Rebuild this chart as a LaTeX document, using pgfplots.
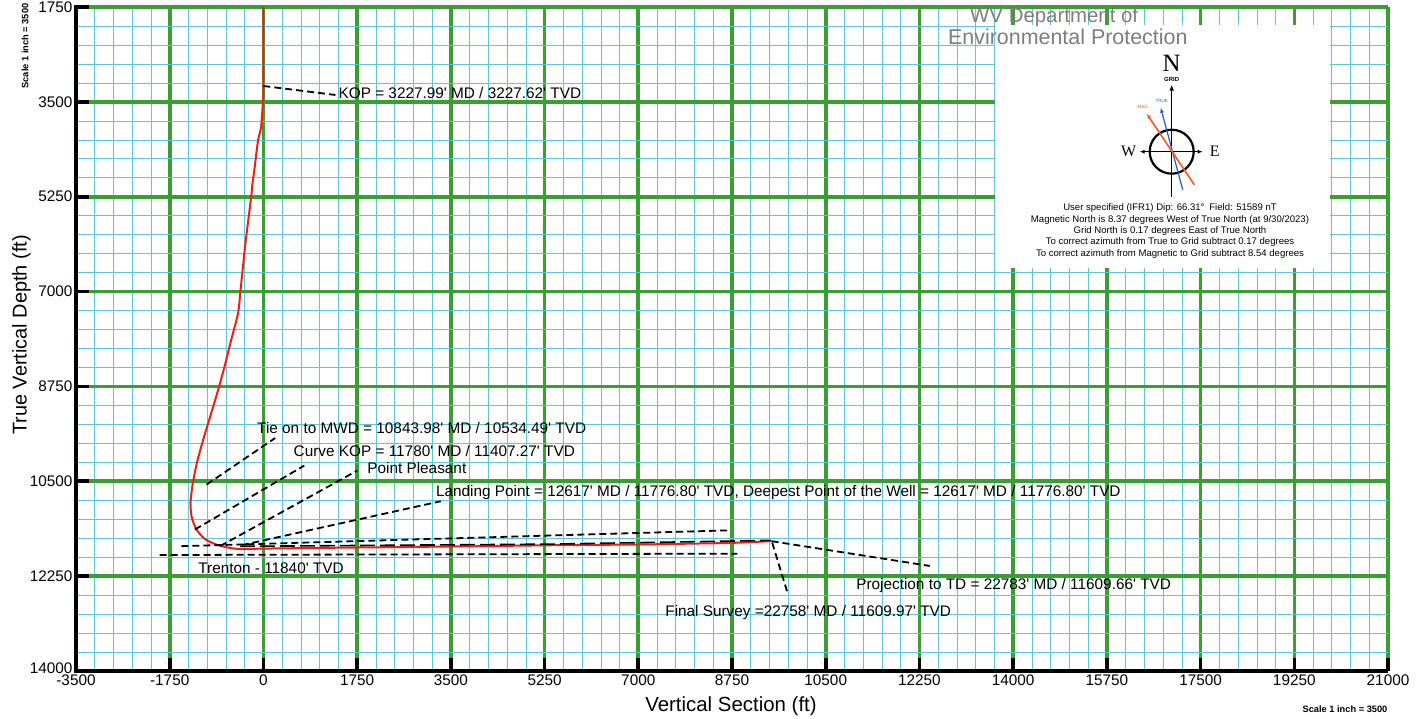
\documentclass[border=0pt]{standalone}
\usepackage{pgfplots}
\pgfplotsset{compat=1.18}
\usepackage{fontspec}
\setmainfont{Liberation Sans}[Ligatures=TeXOff]
\newfontfamily\serif{Liberation Serif}
\usetikzlibrary{arrows.meta}

\definecolor{majgreen}{RGB}{58,158,52}
\definecolor{mincyan}{RGB}{95,198,214}
\definecolor{wellred}{RGB}{236,32,22}
\definecolor{stampgray}{RGB}{125,125,125}
\definecolor{magorange}{RGB}{240,90,30}
\definecolor{trueblue}{RGB}{40,90,200}

\tikzset{
  lead/.style={black, line width=1.8bp, dash pattern=on 7bp off 4bp},
  note/.style={anchor=west, inner sep=0pt, font=\fontsize{15.4}{18}\selectfont},
}

\begin{document}
\begin{tikzpicture}
\begin{axis}[
  at={(0,0)}, anchor=south west,
  scale only axis, width=1312bp, height=664bp,
  xmin=-3500, xmax=21000, ymin=1750, ymax=14000,
  y dir=reverse,
  clip=false,
  scaled ticks=false,
  xtick={-3500,-1750,...,21000},
  ytick={1750,3500,...,14000},
  yticklabels={1750,3500,5250,7000,8750,10500,12250,\raisebox{5bp}{14000}},
  minor tick num=4,
  grid=both,
  major grid style={majgreen, line width=3.6bp},
  minor grid style={mincyan, line width=0.6bp},
  axis line style={draw=none},
  tick align=inside,
  tick style={black, line width=3.6bp},
  major tick length=13bp, minor tick length=0pt,
  xtick pos=left, ytick pos=left,
  tick label style={font=\fontsize{15.4}{18}\selectfont},
  /pgf/number format/.cd, 1000 sep={}, assume math mode=true,
]
% well path
\addplot[wellred, line width=2bp, smooth, tension=0.4] coordinates {
  (0,1750) (0,3228) (-8,3470) (-43,3958) (-100,4204) (-162,4696)
  (-211,5065) (-228,5250) (-336,6109) (-430,7000) (-473,7395)
  (-616,7948) (-728,8391) (-827,8750) (-940,9129) (-1126,9738)
  (-1240,10150) (-1320,10540) (-1362,10900) (-1340,11160) (-1250,11390)
  (-1100,11560) (-880,11667) (-650,11725) (-450,11750) (-200,11750)
  (0,11742) (1700,11722) (4000,11698) (5375,11680) (7000,11666)
  (8000,11650) (8750,11636) (9200,11618) (9490,11603)
};
% plan line under the lateral
\addplot[black, line width=1.6bp, dash pattern=on 15bp off 5bp] coordinates {
  (-440,11700) (5375,11659) (9470,11590)
};
% formation tops
\addplot[lead] coordinates {(-1531,11697) (8693,11405)};
\addplot[lead] coordinates {(-1940,11860) (8850,11835)};
% leaders
\addplot[lead] coordinates {(0,3207) (1345,3373)};
\addplot[lead] coordinates {(-1062,10561) (219,9702)};
\addplot[lead] coordinates {(-1281,11390) (762,10211)};
\addplot[lead] coordinates {(-812,11697) (1750,10304)};
\addplot[lead] coordinates {(-406,11679) (3312,10868)};
\addplot[lead] coordinates {(9490,11605) (12444,12062)};
\addplot[lead] coordinates {(9500,11630) (9777,12527)};

\node[note] at (axis cs:1400,3340) {KOP = 3227.99' MD / 3227.62' TVD};
\node[note] at (axis cs:-120,9518) {Tie on to MWD = 10843.98' MD / 10534.49' TVD};
\node[note] at (axis cs:562,9947) {Curve KOP = 11780' MD / 11407.27' TVD};
\node[note] at (axis cs:1937,10254) {Point Pleasant};
\node[note] at (axis cs:3219,10703) {Landing Point = 12617' MD / 11776.80' TVD, Deepest Point of the Well = 12617' MD / 11776.80' TVD};
\node[note] at (axis cs:-1219,12096) {Trenton - 11840' TVD};
\node[note] at (axis cs:11067,12416) {Projection to TD = 22783' MD / 11609.66' TVD};
\node[note] at (axis cs:7502,12918) {Final Survey =22758' MD / 11609.97' TVD};

% axis lines (left and bottom only)
\draw[black, line width=4bp] (axis cs:-3500,1710) -- (axis cs:-3500,14000) -- (axis cs:21000,14000);
\end{axis}

\begin{scope}[x=1bp, y=1bp]
% axis titles
\node[anchor=base, inner sep=0pt, font=\fontsize{20.5}{24}\selectfont] at (655,-40.5) {Vertical Section (ft)};
\node[anchor=base, rotate=90, inner sep=0pt, font=\fontsize{20}{24}\selectfont] at (-49.3,336) {True Vertical Depth (ft)};
\node[rotate=90, inner sep=0pt, font=\bfseries\fontsize{9.3}{11}\selectfont] at (-51,625) {Scale 1 inch = 3500};
\node[inner sep=0pt, font=\bfseries\fontsize{9.3}{11}\selectfont] at (1269,-38) {Scale 1 inch = 3500};

% north arrow panel
\fill[white] (919,403) rectangle (1254,646);
\node[anchor=base west, inner sep=0pt, stampgray, font=\fontsize{20.5}{24}\selectfont] at (894,648) {WV Department of};
\node[anchor=base west, inner sep=0pt, stampgray, font=\fontsize{21.5}{24}\selectfont] at (872,626) {Environmental Protection};

\begin{scope}[shift={(1095.7,519.3)}]
  \draw[black, line width=2.2bp] (0,0) circle (22);
  \draw[black, line width=1.4bp, -{Latex[length=6bp,width=5bp]}] (0,-45) -- (0,67);
  \draw[black, line width=0.9bp, {Latex[length=5bp,width=4bp]}-{Latex[length=5bp,width=4bp]}] (-32,0) -- (31,0);
  \draw[trueblue, line width=1.2bp, -{Latex[length=5bp,width=4bp]}] (11,-38) -- (-11,44);
  \draw[magorange, line width=1.6bp, -{Latex[length=5bp,width=4bp]}] (22.6,-33) -- (-25,38);
  \node[inner sep=0pt, font=\serif\fontsize{25}{28}\selectfont] at (0,88) {N};
  \node[inner sep=0pt, font=\bfseries\fontsize{6}{7}\selectfont] at (0,72) {GRID};
  \node[inner sep=0pt, trueblue, font=\fontsize{4.5}{5}\selectfont] at (-10,51) {TRUE};
  \node[inner sep=0pt, magorange, font=\fontsize{4.5}{5}\selectfont] at (-29,45) {MAG};
  \node[inner sep=0pt, font=\serif\fontsize{16}{18}\selectfont] at (-43,0) {W};
  \node[inner sep=0pt, font=\serif\fontsize{16}{18}\selectfont] at (43,0) {E};
\end{scope}
\begin{scope}[every node/.style={anchor=base, inner sep=0pt, font=\fontsize{9.6}{11}\selectfont}]
  \node at (1094,460.2) {User specified (IFR1) Dip: 66.31°\enspace Field: 51589 nT};
  \node at (1094,448.5) {Magnetic North is 8.37 degrees West of True North (at 9/30/2023)};
  \node at (1094,437.5) {Grid North is 0.17 degrees East of True North};
  \node at (1094,426.2) {To correct azimuth from True to Grid subtract 0.17 degrees};
  \node at (1094,414.5) {To correct azimuth from Magnetic to Grid subtract 8.54 degrees};
\end{scope}
\end{scope}

\pgfresetboundingbox
\path[use as bounding box] (-76bp,-48bp) rectangle (1347bp,671bp);
\end{tikzpicture}
\end{document}
